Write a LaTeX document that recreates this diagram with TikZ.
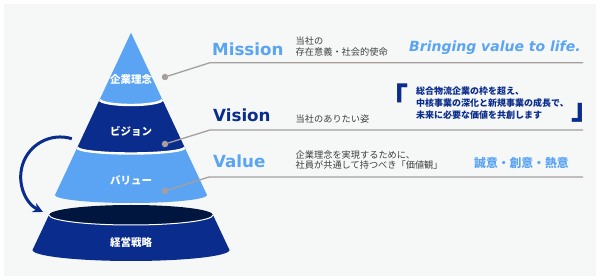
\documentclass[tikz,border=0pt]{standalone}
\usepackage{fontspec}
\setmainfont{DejaVu Sans}
\newfontfamily\jp{Noto Sans CJK JP}
\usetikzlibrary{arrows.meta}
\definecolor{lb}{HTML}{5AA4F3}
\definecolor{dk}{HTML}{0A2C8C}
\definecolor{dkt}{HTML}{00163F}
\definecolor{ln}{HTML}{A69E9C}
\definecolor{gt}{HTML}{3E3E3E}
\definecolor{bg}{HTML}{F6F8F8}
\begin{document}
\begin{tikzpicture}[x=1pt,y=-1pt,
  lbl/.style={text=white,font=\jp\bfseries\fontsize{10.5}{12}\selectfont,inner sep=0},
  dot/.style={circle,fill=ln,inner sep=0,minimum size=6.5pt},
  conn/.style={draw=ln,line width=1.3pt},
  title/.style={font=\bfseries\fontsize{16.7}{18}\selectfont,anchor=base west,inner sep=0},
  sub/.style={font=\jp\fontsize{9.2}{11}\selectfont,text=gt,anchor=west,inner sep=0},
  quote/.style={font=\jp\bfseries\fontsize{9}{11}\selectfont,text=dk,anchor=west,inner sep=0},
  brk/.style={font=\jp\bfseries\fontsize{30}{30}\selectfont,text=dk,inner sep=0},
  ]
\useasboundingbox (0,0) rectangle (600,280);
\fill[white] (0,0) rectangle (600,280);
\fill[bg] (4,4) rectangle (596,276);

% cone segments
\fill[lb] (99.7,99.5) -- (131,32.7) -- (162.3,99.5) arc[start angle=0,end angle=-180,x radius=31.3pt,y radius=5.5pt] -- cycle;
\fill[dk] (162.3,99.5) arc[start angle=0,end angle=-180,x radius=31.3pt,y radius=5.5pt] -- (77.3,147.5) arc[start angle=180,end angle=360,x radius=53.7pt,y radius=6pt] -- cycle;
\fill[lb] (184.7,147.5) arc[start angle=0,end angle=-180,x radius=53.7pt,y radius=6pt] -- (55,195) arc[start angle=180,end angle=360,x radius=76pt,y radius=8pt] -- cycle;
\begin{scope}
\clip (131,32.7) -- (55,195) -- (207,195) -- cycle;
\draw[white,line width=2.4pt] (162.3,99.5) arc[start angle=0,end angle=-180,x radius=31.3pt,y radius=5.5pt];
\draw[white,line width=2.4pt] (184.7,147.5) arc[start angle=0,end angle=-180,x radius=53.7pt,y radius=6pt];
\end{scope}

% base
\fill[dkt] (131,215) ellipse[x radius=82pt,y radius=10pt];
\fill[dk] (213,215) arc[start angle=0,end angle=-180,x radius=82pt,y radius=10pt] -- (32.5,250) arc[start angle=180,end angle=360,x radius=98.5pt,y radius=11pt] -- cycle;
\draw[white,line width=1pt] (213,215) arc[start angle=0,end angle=-180,x radius=82pt,y radius=10pt];

% labels
\node[lbl] (mis) at (131,79.3) {企業理念};
\node[lbl] (vis) at (131,131.7) {ビジョン};
\node[lbl] (val) at (131,180.7) {バリュー};
\node[lbl] (str) at (131,242.7) {経営戦略};

% arrow
\coordinate (arS) at (71.8,138.7);
\draw[dk,line width=3pt,-{Stealth[length=10pt,width=10pt]}] (arS) arc[start angle=73,end angle=244,radius=39.5pt];

% connectors
\node[dot] (dM) at (165,77) {};
\node[dot] (dV) at (165,144) {};
\node[dot] (dVa) at (165,191) {};
\coordinate (kM) at (210,62.7); \coordinate (eM) at (583,62.7);
\coordinate (kV) at (210,130); \coordinate (eV) at (583,130);
\coordinate (kVa) at (209,177); \coordinate (eVa) at (583,177);
\draw[conn] (dM) -- (kM) -- (eM);
\draw[conn] (dV) -- (kV) -- (eV);
\draw[conn] (dVa) -- (kVa) -- (eVa);

% titles
\node[title,text=lb] (tM) at (212,56) {Mission};
\node[title,text=dk] (tV) at (213,121.7) {Vision};
\node[title,text=lb] (tVa) at (213,167.7) {Value};

% sub texts
\node[sub] (sM1) at (295.5,41.2) {当社の};
\node[sub] (sM2) at (295.5,52.4) {存在意義・社会的使命};
\node[sub] (sV) at (295.5,118.8) {当社のありたい姿};
\node[sub] (sVa1) at (295.5,154.7) {企業理念を実現するために、};
\node[sub] (sVa2) at (295.5,164.9) {社員が共通して持つべき「価値観」};

% right texts
\node[font=\bfseries\itshape\fontsize{14}{16}\selectfont,text=lb,anchor=base west,inner sep=0] (bv) at (409,52) {Bringing value to life.};
\node[quote] (q1) at (416,91.2) {総合物流企業の枠を超え、};
\node[quote] (q2) at (416,103.2) {中核事業の深化と新規事業の成長で、};
\node[quote] (q3) at (416,114.7) {未来に必要な価値を共創します};
\node[brk,anchor=north west] (bl) at (377.9,83.3) {「};
\node[brk,anchor=south west] (br) at (571,122.7) {」};
\node[font=\jp\bfseries\fontsize{11.8}{13}\selectfont,text=lb,anchor=west,inner sep=0] (vv) at (474,162.7) {誠意・創意・熱意};
\end{tikzpicture}
\end{document}
